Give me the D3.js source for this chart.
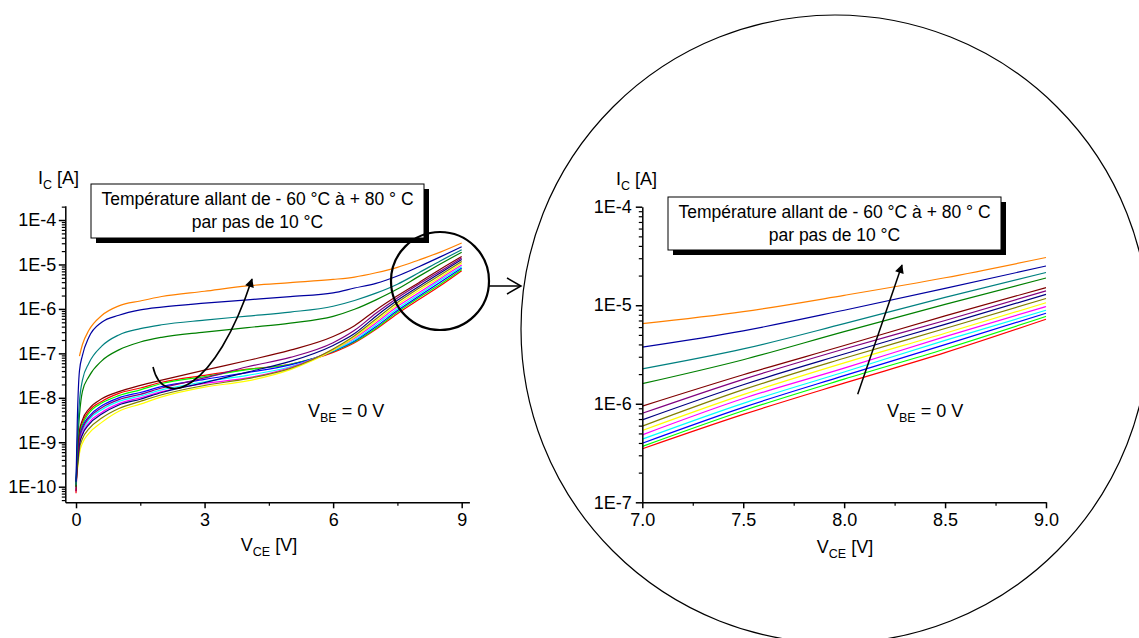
<!DOCTYPE html>
<html><head><meta charset="utf-8">
<script src="https://cdn.jsdelivr.net/npm/d3@7"></script>
<style>
html,body{margin:0;padding:0;background:#fff;}
svg{display:block;}
text{font-family:'Liberation Sans',Arial,sans-serif;fill:#000;}
</style></head><body>
<svg id="c" width="1139" height="638"></svg>
<script>
// ---------------- DATA ----------------
const vce = [0, 0.03, 0.08, 0.15, 0.3, 0.6, 1, 1.5, 2, 3, 4, 5, 6, 6.5, 7, 7.5, 8, 8.5, 9];

const icRed     = [7.1e-11, 5.0e-10, 1.66e-9, 2.8e-9, 5.0e-9, 8.3e-9, 1.26e-8, 1.66e-8, 2.24e-8, 3.2e-8, 4.4e-8, 5.7e-8, 1.05e-7, 1.74e-7, 3.49e-7, 7.8e-7, 1.62e-6, 3.3e-6, 7.2e-6];
const icGreen   = [1.0e-10, 4.5e-10, 1.48e-9, 2.5e-9, 4.5e-9, 7.6e-9, 1.12e-8, 1.51e-8, 2.1e-8, 3.0e-8, 4.3e-8, 5.7e-8, 1.1e-7, 1.82e-7, 3.69e-7, 8.5e-7, 1.78e-6, 3.6e-6, 7.7e-6];
const icBlue    = [1.26e-10, 4.0e-10, 1.26e-9, 2.2e-9, 3.8e-9, 6.6e-9, 1.0e-8, 1.32e-8, 1.78e-8, 2.6e-8, 3.7e-8, 5.5e-8, 1.12e-7, 1.9e-7, 3.98e-7, 9.2e-7, 1.93e-6, 3.98e-6, 8.3e-6];
const icCyan    = [8.9e-11, 3.2e-10, 1.05e-9, 1.78e-9, 3.2e-9, 5.4e-9, 8.3e-9, 1.1e-8, 1.51e-8, 2.3e-8, 3.2e-8, 5.0e-8, 1.15e-7, 2.0e-7, 4.37e-7, 1.01e-6, 2.1e-6, 4.4e-6, 8.9e-6];
const icMagenta = [7.9e-11, 2.8e-10, 9.3e-10, 1.58e-9, 2.75e-9, 4.7e-9, 7.4e-9, 1.0e-8, 1.38e-8, 2.1e-8, 2.8e-8, 4.8e-8, 1.2e-7, 2.2e-7, 4.84e-7, 1.13e-6, 2.3e-6, 4.8e-6, 9.7e-6];
const icYellow  = [1.12e-10, 2.2e-10, 5.6e-10, 9.5e-10, 1.58e-9, 2.8e-9, 5.0e-9, 7.2e-9, 1.05e-8, 1.74e-8, 2.4e-8, 4.3e-8, 1.17e-7, 2.3e-7, 5.36e-7, 1.24e-6, 2.6e-6, 5.2e-6, 1.06e-5];
const icDkYellow= [1.26e-10, 2.5e-10, 7.1e-10, 1.2e-9, 2.0e-9, 3.5e-9, 5.75e-9, 8.3e-9, 1.17e-8, 1.9e-8, 2.7e-8, 4.6e-8, 1.26e-7, 2.5e-7, 5.93e-7, 1.39e-6, 2.9e-6, 5.8e-6, 1.17e-5];
const icNavy    = [1.12e-10, 2.8e-10, 8.9e-10, 1.48e-9, 2.5e-9, 4.3e-9, 6.9e-9, 9.3e-9, 1.32e-8, 2.2e-8, 3.8e-8, 6.6e-8, 1.51e-7, 2.8e-7, 6.87e-7, 1.56e-6, 3.2e-6, 6.4e-6, 1.29e-5];
const icPurple  = [1.0e-10, 3.5e-10, 1.17e-9, 2.0e-9, 3.5e-9, 6.0e-9, 9.1e-9, 1.2e-8, 1.66e-8, 2.8e-8, 5.0e-8, 8.1e-8, 1.74e-7, 3.3e-7, 8.0e-7, 1.77e-6, 3.6e-6, 7.0e-6, 1.40e-5];
const icWine    = [7.9e-11, 5.0e-10, 1.8e-9, 3.2e-9, 5.6e-9, 9.5e-9, 1.38e-8, 1.9e-8, 2.5e-8, 4.2e-8, 6.9e-8, 1.18e-7, 2.4e-7, 4.2e-7, 9.46e-7, 1.97e-6, 3.9e-6, 7.8e-6, 1.51e-5];
const icOlive   = [1.0e-10, 7.0e-10, 4.0e-9, 1.4e-8, 3.0e-8, 6.8e-8, 1.2e-7, 1.8e-7, 2.3e-7, 3.0e-7, 3.8e-7, 4.8e-7, 6.8e-7, 9.8e-7, 1.6e-6, 2.8e-6, 5.4e-6, 1.02e-5, 1.89e-5];
const icDkCyan  = [1.1e-10, 1.0e-9, 8.0e-9, 2.5e-8, 6.0e-8, 1.45e-7, 2.6e-7, 3.6e-7, 4.4e-7, 5.6e-7, 6.9e-7, 8.5e-7, 1.15e-6, 1.55e-6, 2.26e-6, 3.6e-6, 6.5e-6, 1.2e-5, 2.15e-5];
const icRoyal   = [1.3e-10, 3.0e-9, 4.0e-8, 9.0e-8, 2.3e-7, 5.0e-7, 7.2e-7, 9.5e-7, 1.1e-6, 1.35e-6, 1.6e-6, 1.9e-6, 2.3e-6, 2.95e-6, 3.76e-6, 5.5e-6, 8.9e-6, 1.48e-5, 2.5e-5];
const icOrange  = [null, null, 8.7e-8, 1.58e-7, 3.3e-7, 7.1e-7, 1.17e-6, 1.51e-6, 1.9e-6, 2.5e-6, 3.3e-6, 3.9e-6, 4.6e-6, 5.2e-6, 6.5e-6, 8.6e-6, 1.26e-5, 1.9e-5, 3.05e-5];

const seriesColors = ["#FF0000","#00FF00","#0000FF","#00FFFF","#FF00FF","#FFFF00","#808000","#000080","#800080","#800000","#008000","#008080","#0000A0","#FF8000"];
const seriesValues = [icRed, icGreen, icBlue, icCyan, icMagenta, icYellow, icDkYellow, icNavy, icPurple, icWine, icOlive, icDkCyan, icRoyal, icOrange];

const leftXTicks = [0, 3, 6, 9];
const leftXMinor = [1.5, 4.5, 7.5];
const leftYTicks = [1e-4, 1e-5, 1e-6, 1e-7, 1e-8, 1e-9, 1e-10];
const rightXTicks = [7.0, 7.5, 8.0, 8.5, 9.0];
const rightXMinor = [7.25, 7.75, 8.25, 8.75];
const rightYTicks = [1e-4, 1e-5, 1e-6, 1e-7];
const legendLines = ["Température allant de - 60 °C à + 80 ° C", "par pas de 10 °C"];

// ---------------- DRAW ----------------
const svg = d3.select("#c");
const FONT = "'Liberation Sans', Arial, sans-serif";
const FS = 18, FSUB = 12.5, FLEG = 17.5;

const defs = svg.append("defs");
defs.append("marker").attr("id","ah").attr("viewBox","0 0 10 10")
  .attr("refX",9).attr("refY",5).attr("markerWidth",11).attr("markerHeight",9)
  .attr("markerUnits","userSpaceOnUse").attr("orient","auto")
  .append("path").attr("d","M0,0 L10,5 L0,10 Z").attr("fill","#000");

function minorLog(domain){
  const out=[]; const lo=Math.floor(Math.log10(domain[0])), hi=Math.ceil(Math.log10(domain[1]));
  for(let e=lo;e<=hi;e++) for(let m=2;m<=9;m++){const v=m*Math.pow(10,e); if(v>=domain[0]&&v<=domain[1]) out.push(v);}
  return out;
}
const expLabel = v => "1E" + Math.round(Math.log10(v));

function subText(g, x, y, main, sub, rest, anchor){
  const t = g.append("text").attr("x",x).attr("y",y).attr("font-size",FS).attr("text-anchor",anchor||"start");
  t.append("tspan").text(main);
  t.append("tspan").attr("font-size",FSUB).attr("dy",5).text(sub);
  t.append("tspan").attr("dy",-5).text(rest);
  return t;
}

function drawChart(cfg){
  const g = svg.append("g");
  const x = d3.scaleLinear().domain(cfg.xDomain).range(cfg.xRange);
  const y = d3.scaleLog().domain(cfg.yDomain).range(cfg.yRange);

  const line = d3.line()
    .defined(d => d.v !== null)
    .x(d => x(d.x)).y(d => y(d.v))
    .curve(d3.curveMonotoneX);
  seriesValues.forEach((vals, i) => {
    const pts = vce.map((vx, k) => ({x: vx, v: vals[k]})).filter(p => p.x >= cfg.xMin);
    g.append("path").attr("d", line(pts)).attr("fill","none")
      .attr("stroke", seriesColors[i]).attr("stroke-width", 1.2);
  });

  g.append("g").attr("transform",`translate(${cfg.xRange[0]},0)`)
    .call(d3.axisLeft(y).tickValues(minorLog(cfg.yDomain)).tickFormat("").tickSize(3.5).tickSizeOuter(0))
    .call(a => a.select(".domain").remove())
    .selectAll("line").attr("stroke-width",1.2);
  const ya = g.append("g").attr("transform",`translate(${cfg.xRange[0]},0)`)
    .call(d3.axisLeft(y).tickValues(cfg.yTicks).tickFormat(expLabel).tickSize(6.5).tickPadding(cfg.yPad).tickSizeOuter(0));
  ya.selectAll("line").attr("stroke-width",1.5);
  ya.select(".domain").attr("stroke-width",1.5);
  ya.selectAll("text").attr("font-size",FS).attr("font-family",FONT);

  g.append("g").attr("transform",`translate(0,${cfg.yRange[0]})`)
    .call(d3.axisBottom(x).tickValues(cfg.xMinor).tickFormat("").tickSize(3.5).tickSizeOuter(0))
    .call(a => a.select(".domain").remove())
    .selectAll("line").attr("stroke-width",1.2);
  const xa = g.append("g").attr("transform",`translate(0,${cfg.yRange[0]})`)
    .call(d3.axisBottom(x).tickValues(cfg.xTicks).tickFormat(cfg.xFmt).tickSize(6).tickPadding(4.5).tickSizeOuter(0));
  xa.selectAll("line").attr("stroke-width",1.5);
  xa.select(".domain").attr("stroke-width",1.5);
  xa.selectAll("text").attr("font-size",FS).attr("font-family",FONT);

  subText(g, cfg.yTitle[0], cfg.yTitle[1], "I", "C", " [A]");
  subText(g, cfg.xTitle[0], cfg.xTitle[1], "V", "CE", " [V]", "middle");
  subText(g, cfg.vbe[0], cfg.vbe[1], "V", "BE", " = 0 V");

  const [bx,by,bw,bh] = cfg.box;
  g.append("rect").attr("x",bx+5).attr("y",by+5).attr("width",bw).attr("height",bh).attr("fill","#000");
  g.append("rect").attr("x",bx).attr("y",by).attr("width",bw).attr("height",bh).attr("fill","#fff").attr("stroke","#000").attr("stroke-width",1);
  legendLines.forEach((t,i) => {
    g.append("text").attr("x",bx+bw/2).attr("y",by+21+i*23).attr("text-anchor","middle").attr("font-size",FLEG).text(t);
  });
  return {x,y,g};
}

drawChart({
  xDomain:[-0.25, 9.18], xRange:[65.3, 469.4], xMin:0,
  yDomain:[4.46e-11, 2.1e-4], yRange:[502.3, 205.7],
  yTicks:leftYTicks, xTicks:leftXTicks, xMinor:leftXMinor, xFmt:d3.format("d"), yPad:2.5,
  yTitle:[38,184], xTitle:[269,551], vbe:[308,417], box:[91,184,333,54]
});
drawChart({
  xDomain:[7, 9], xRange:[642.3, 1046], xMin:7,
  yDomain:[1e-7, 1e-4], yRange:[502.3, 206.7],
  yTicks:rightYTicks, xTicks:rightXTicks, xMinor:rightXMinor, xFmt:d3.format(".1f"), yPad:4,
  yTitle:[616,185], xTitle:[845,553], vbe:[887,417], box:[668,197,333,53]
});

svg.append("path").attr("d","M153,367 C163,410 215,392 252,279")
  .attr("fill","none").attr("stroke","#000").attr("stroke-width",1.6).attr("marker-end","url(#ah)");
svg.append("line").attr("x1",857.7).attr("y1",394.3).attr("x2",902).attr("y2",265)
  .attr("stroke","#000").attr("stroke-width",1.5).attr("marker-end","url(#ah)");

svg.append("circle").attr("cx",440).attr("cy",281).attr("r",49).attr("fill","none").attr("stroke","#000").attr("stroke-width",2.2);
svg.append("circle").attr("cx",835).attr("cy",329).attr("r",314).attr("fill","none").attr("stroke","#000").attr("stroke-width",1.2);
svg.append("line").attr("x1",489).attr("y1",286).attr("x2",521).attr("y2",286).attr("stroke","#000").attr("stroke-width",1.5);
svg.append("polyline").attr("points","507,278 521,286 507,294").attr("fill","none").attr("stroke","#000").attr("stroke-width",1.5);
</script>
</body></html>
